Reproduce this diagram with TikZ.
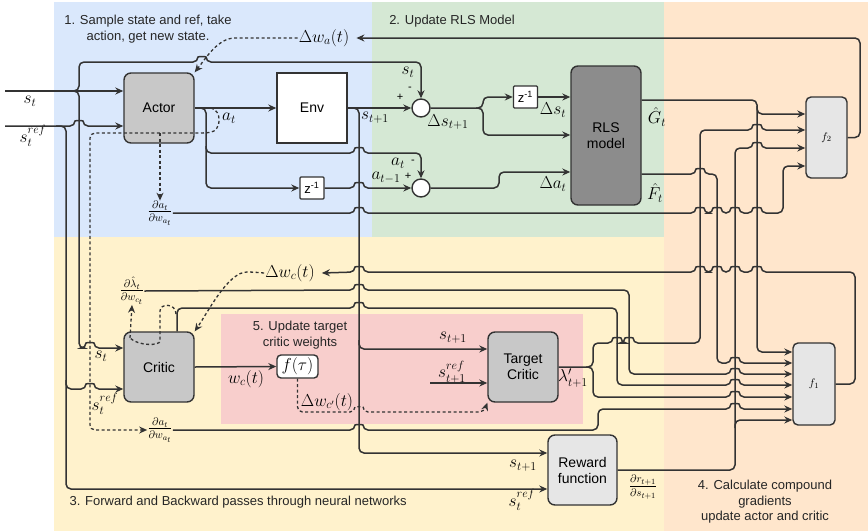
\documentclass[tikz,border=0pt]{standalone}
\usepackage{fontspec}
\setmainfont{Liberation Sans}
\usepackage{amsmath}
\usetikzlibrary{arrows.meta}
\definecolor{bgblue}{HTML}{DAE8FC}
\definecolor{bggreen}{HTML}{D5E8D4}
\definecolor{bgpeach}{HTML}{FFE6CC}
\definecolor{bgyellow}{HTML}{FFF2CC}
\definecolor{bgpink}{HTML}{F8CECC}
\definecolor{lc}{HTML}{333333}
\definecolor{nodegray}{HTML}{C8C8C8}
\definecolor{rlsgray}{HTML}{8C8C8C}
\definecolor{lightgray}{HTML}{E6E6E6}
\newcommand\hopr[2]{-- ({#1-4},#2) .. controls ({#1-4},{#2-5.5}) and ({#1+4},{#2-5.5}) .. ({#1+4},#2)}
\newcommand\hopl[2]{-- ({#1+4},#2) .. controls ({#1+4},{#2-5.5}) and ({#1-4},{#2-5.5}) .. ({#1-4},#2)}
\tikzset{
  bx/.style={draw=lc, line width=1.4pt, rounded corners=7pt, align=center, font=\fontsize{14}{16}\selectfont, inner sep=0pt},
  nn/.style={bx, fill=nodegray, minimum width=70pt, minimum height=70pt},
  sumnode/.style={circle, draw=lc, line width=1.4pt, fill=white, minimum size=18pt, inner sep=0pt},
  zbox/.style={bx, fill=white, rounded corners=1pt, minimum width=24pt, minimum height=22pt, font=\fontsize{13}{15}\selectfont},
  conn/.style={draw=lc, line width=1.5pt, rounded corners=5pt},
  arr/.style={conn, -{Stealth[length=8pt,width=7pt]}},
  dsh/.style={draw=lc, line width=1.3pt, dash pattern=on 3pt off 2.5pt, rounded corners=5pt},
  darr/.style={dsh, -{Stealth[length=8pt,width=7pt]}},
  ml/.style={font=\fontsize{16.5}{19}\selectfont, inner sep=1pt},
  fr/.style={font=\fontsize{16}{19}\selectfont, inner sep=0pt},
  ttl/.style={font=\fontsize{13}{15.5}\selectfont, align=center, text=black!85},
  sg/.style={font=\fontsize{11}{12}\selectfont, inner sep=0pt}
}
\begin{document}
\begin{tikzpicture}[x=1pt,y=-1pt]
\useasboundingbox (0,0) rectangle (868,531);
% backgrounds
\fill[white] (0,0) rectangle (868,531);
\fill[bgblue] (54,2) rectangle (372,237);
\fill[bggreen] (372,2) rectangle (664,237);
\fill[bgpeach] (664,2) rectangle (868,531);
\fill[bgyellow] (54,237) rectangle (664,531);
\fill[bgpink] (221,314) rectangle (583,424);
% titles
\node[ttl] (t1) at (148,29) {1. Sample state and ref, take\\action, get new state.};
\node[ttl] (t2) at (452,21) {2. Update RLS Model};
\node[ttl, anchor=west] (t3) at (66,502) {3. Forward and Backward passes through neural networks};
\node[ttl] (t4) at (765,502) {4. Calculate compound\\gradients\\update actor and critic};
\node[ttl] (t5) at (300,335) {5. Update target\\critic weights};
% nodes
\node[nn] (actor) at (159,108) {Actor};
\node[bx, fill=white, rounded corners=0pt, minimum width=70pt, minimum height=70pt] (env) at (312,108) {Env};
\node[sumnode] (sum1) at (421,108) {};
\node[zbox] (z1) at (525.5,97) {z\textsuperscript{-1}};
\node[bx, fill=rlsgray, minimum width=70pt, minimum height=139pt] (rls) at (606,135.5) {RLS\\model};
\node[sumnode] (sum2) at (421,188) {};
\node[zbox] (z2) at (312,188) {z\textsuperscript{-1}};
\node[bx, fill=lightgray, rounded corners=5pt, minimum width=41pt, minimum height=81pt, font=\fontsize{11}{12}\selectfont] (f2) at (826.5,137.5) {$f_2$};
\node[bx, fill=lightgray, rounded corners=5pt, minimum width=42pt, minimum height=82pt, font=\fontsize{11}{12}\selectfont] (f1) at (814,384) {$f_1$};
\node[nn] (critic) at (159,367) {Critic};
\node[bx, fill=white, rounded corners=4pt, minimum width=41pt, minimum height=23pt, font=\fontsize{16}{18}\selectfont] (ftau) at (297.5,366.5) {$f(\tau)$};
\node[nn] (tc) at (523,367) {Target\\Critic};
\node[bx, fill=lightgray, minimum width=69pt, minimum height=70pt] (rew) at (582.5,470) {Reward\\function};
% labels
\coordinate (sin) at (5,91);
\coordinate (srefin) at (5,126);
\coordinate (sref1in) at (430,383);
\node[ml] (lst) at (30,101) {$s_t$};
\node[ml] (lsref) at (33,136) {$s_t^{ref}$};
\node[ml] (lat) at (229,118) {$a_t$};
\node[ml] (lst1) at (375,118) {$s_{t+1}$};
\node[ml] (lst2) at (408,72) {$s_t$};
\node[sg] (p1) at (400,97) {+};
\node[sg] (m1) at (410,89) {-};
\node[ml] (lat2) at (398,163) {$a_t$};
\node[sg] (m2) at (413,162) {-};
\node[ml] (latm) at (386,178) {$a_{t-1}$};
\node[sg] (p2) at (408,176) {+};
\node[ml] (ldsn) at (448,122) {$\Delta s_{t+1}$};
\node[ml] (lds) at (553,110) {$\Delta s_t$};
\node[ml] (lda) at (553,184) {$\Delta a_t$};
\node[ml] (lG) at (657,117) {$\hat{G}_t$};
\node[ml] (lF) at (655,193) {$\hat{F}_t$};
\node[ml] (dwa) at (324,38) {$\Delta w_a(t)$};
\node[ml] (dwc) at (290,273) {$\Delta w_c(t)$};
\node[fr] (dadw1) at (160,213) {$\frac{\partial a_t}{\partial w_{a_t}}$};
\node[fr] (dlam) at (132,291) {$\frac{\partial \hat{\lambda}_t}{\partial w_{c_t}}$};
\node[fr] (dadw2) at (160,430) {$\frac{\partial a_t}{\partial w_{a_t}}$};
\node[ml] (lsc) at (101,356) {$s_t$};
\node[ml] (lsrefc) at (105,404) {$s_t^{ref}$};
\node[ml] (lwc) at (246,379) {$w_c(t)$};
\node[ml] (ldwcp) at (327,402) {$\Delta w_{c'}(t)$};
\node[ml] (lstc) at (453,338) {$s_{t+1}$};
\node[ml] (lsreftc) at (452,372) {$s_{t+1}^{ref}$};
\node[ml] (llam) at (573,378) {$\lambda'_{t+1}$};
\node[ml] (lsr) at (523,466) {$s_{t+1}$};
\node[ml] (lsrefr) at (522,500) {$s_t^{ref}$};
\node[fr] (drds) at (643,487) {$\frac{\partial r_{t+1}}{\partial s_{t+1}}$};
% s_t
\draw[arr] (sin) -- (actor.west |- sin);
\draw[arr] (70,91) -- (79,91) -- (79,62) \hopr{202}{62} -- (421,62) -- (sum1.north);
\draw[arr] (70,91) -- (79,91) -- (79,348) \hopr{90}{348} -- (critic.west |- 0,348);
% s_t^ref
\draw[arr] (srefin) \hopr{79}{126} -- (actor.west |- srefin);
\draw[arr] (56,126) -- (66,126) -- (66,489) -- (rew.west |- 0,489);
\draw[arr] (66,380) -- (66,389) \hopr{90}{389} -- (critic.west |- 0,389);
% actor -> env, a_t
\draw[arr] (actor.east) -- (env.west);
\draw[arr] (200,108) -- (206,108) -- (206,188) -- (z2.west);
\draw[arr] (206,146) -- (206,153) \hopr{359}{153} -- (421,153) -- (sum2.north);
\draw[arr] (z2.east) \hopr{359}{188} -- (sum2.west);
% env -> sum1, s_{t+1}
\draw[arr] (env.east) -- (sum1.west);
\draw[arr] (352,108) -- (359,108) -- (359,453) -- (rew.west |- 0,453);
\draw[arr] (359,340) -- (359,349) -- (tc.west |- 0,349);
% sum1 -> RLS
\draw[arr] (sum1.east) -- (483,108) -- (483,97) -- (z1.west);
\draw[arr] (476,108) -- (483,108) -- (483,135) -- (rls.west |- 0,135);
\draw[arr] (z1.east) -- (rls.west |- z1.east);
\draw[arr] (sum2.east) -- (499,188) -- (499,172) -- (rls.west |- 0,172);
% RLS outputs
\draw[arr] (rls.east |- 0,100) -- (757,100) -- (757,352) -- (f1.west |- 0,352);
\draw[arr] (757,106) -- (757,114) -- (f2.west |- 0,114);
\draw[arr] (rls.east |- 0,174) \hopr{700}{174} -- (717,174) -- (717,363) \hopr{735}{363} -- (f1.west |- 0,363);
% target critic output
\draw[arr] (tc.east) -- (593,367) -- (593,343) \hopr{617}{343} \hopr{629}{343} -- (700,343) -- (700,130) \hopr{757}{130} -- (f2.west |- 0,130);
\draw[arr] (586,367) -- (593,367) -- (593,397) \hopr{735}{397} -- (f1.west |- 0,397);
% critic outputs
\draw[arr] (dlam.east) \hopr{359}{290} -- (629,290) -- (629,374) \hopr{735}{374} -- (f1.west |- 0,374);
\draw[arr] (critic.north -| 177,0) -- (177,308) \hopr{359}{308} -- (617,308) -- (617,385) \hopr{735}{385} -- (f1.west |- 0,385);
% actor gradients
\draw[arr] (dadw1.east) \hopr{359}{213} \hopr{700}{213} \hopr{717}{213} \hopr{735}{213} \hopr{757}{213} -- (783,213) -- (783,166) -- (f2.west |- 0,166);
\draw[arr] (dadw2.east) \hopr{359}{430} -- (598,430) -- (598,409) \hopr{735}{409} -- (f1.west |- 0,409);
% reward
\draw[arr] (rew.east) -- (735,470) -- (735,148) \hopr{757}{148} -- (f2.west |- 0,148);
\draw[arr] (735,428) -- (735,420) -- (f1.west |- 0,420);
% f outputs
\draw[arr] (f1.east) -- (855,384) -- (855,272) \hopl{757}{272} \hopl{735}{272} \hopl{717}{272} \hopl{700}{272} \hopl{359}{272} -- ([xshift=6pt]dwc.east);
\draw[arr] (f2.east) -- (860,137.5) -- (860,38) -- ([xshift=6pt]dwa.east);
% critic -> f(tau), target critic ref
\draw[arr] (critic.east) -- (ftau.west);
\draw[arr] (sref1in) -- (tc.west |- sref1in);
% dashed
\draw[darr] (dwa.west) -- (240,38) .. controls (218,38) and (206,58) .. (actor.north east);
\draw[darr] (dwc.west) -- (252,272) .. controls (228,272) and (208,312) .. (critic.north east);
\draw[darr] (ftau.south) -- (297.5,412) \hopr{359}{412} -- (484,412) -- (tc.south west);
\draw[darr] (211,108) .. controls (222,110) and (222,131) .. (205,133) -- (90,133) -- (90,430) -- (dadw2.west);
\draw[darr] (160,133) -- (dadw1.north);
\draw[dsh] (176,314) .. controls (176,303) and (160,303) .. (160,316) -- (160,336) .. controls (160,346) and (138,346) .. (130,338);
\draw[darr] (130,338) -- (dlam.south);
\end{tikzpicture}
\end{document}
